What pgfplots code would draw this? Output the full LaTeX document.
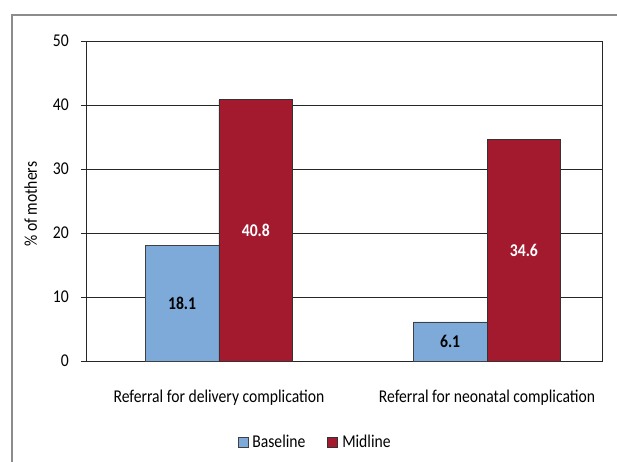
\documentclass[border=0pt]{standalone}
\usepackage{pgfplots}
\pgfplotsset{compat=1.18}
\usepackage{fontspec}
\setmainfont{Carlito}[FakeStretch=0.87]
\definecolor{baseblue}{RGB}{126,170,218}
\definecolor{midred}{RGB}{163,26,46}

\begin{document}
\begin{tikzpicture}
\begin{axis}[
  name=main,
  anchor=south west,
  scale only axis, width=516pt, height=320pt,
  ybar=0pt, bar width=0.275,
  xmin=-0.496, xmax=1.429, ymin=0, ymax=50,
  xtick={0,1},
  xticklabels={Referral for delivery complication, Referral for neonatal complication},
  ytick={0,10,...,50},
  ymajorgrids, grid style={black!85, line width=0.6pt},
  axis line style={black!85, line width=0.7pt},
  xtick style={draw=none},
  ytick pos=left, tick align=outside, major tick length=5pt,
  ytick style={black!85, line width=0.7pt},
  /pgf/number format/assume math mode=true,
  tick label style={font=\fontsize{18}{20}\selectfont},
  yticklabel style={anchor=east, inner sep=0pt, xshift=-12pt},
  xticklabel style={anchor=center, inner sep=0pt, yshift=-32pt},
  ylabel={\% of mothers},
  ylabel style={font=\fontsize{18}{20}\selectfont, at={(axis description cs:-0.107,0.49)}, anchor=center, rotate=0},
  legend columns=2,
  legend style={at={(axis description cs:0.444,-0.253)}, anchor=center, draw=none,
    font=\fontsize{18}{20}\selectfont, inner sep=0pt,
    /tikz/every odd column/.append style={column sep=2pt},
    /tikz/every even column/.append style={column sep=20pt}},
  legend image code/.code={\draw[#1, line width=0.8pt] (0pt,-5pt) rectangle (10pt,5pt);},
  visualization depends on={rawy \as \barval},
  nodes near coords,
  every node near coord/.append style={anchor=center, font=\fontsize{18}{20}\selectfont\bfseries,
    yshift={-3.2pt*\barval}},
]
\addplot[fill=baseblue, draw=black!75, line width=0.8pt, bar shift=-0.1375,
  every node near coord/.append style={text=black}]
  coordinates {(0,18.1) (1,6.1)};
\addplot[fill=midred, draw=black!80, line width=0.8pt, bar shift=0.1375,
  every node near coord/.append style={text=white}]
  coordinates {(0,40.8) (1,34.6)};
\legend{Baseline, Midline}
\end{axis}
% outer chart frame, placed relative to the plot area
\begin{scope}[shift={(main.south west)}, x=1pt, y=1pt]
\clip (-86,-100) rectangle (531,361);
\draw[black!45, line width=1.3pt] (-74,346) rectangle (580,-130);
\end{scope}
\pgfresetboundingbox
\path[use as bounding box] ([shift={(-86pt,-100pt)}]main.south west) rectangle ([shift={(531pt,361pt)}]main.south west);
\end{tikzpicture}
\end{document}
